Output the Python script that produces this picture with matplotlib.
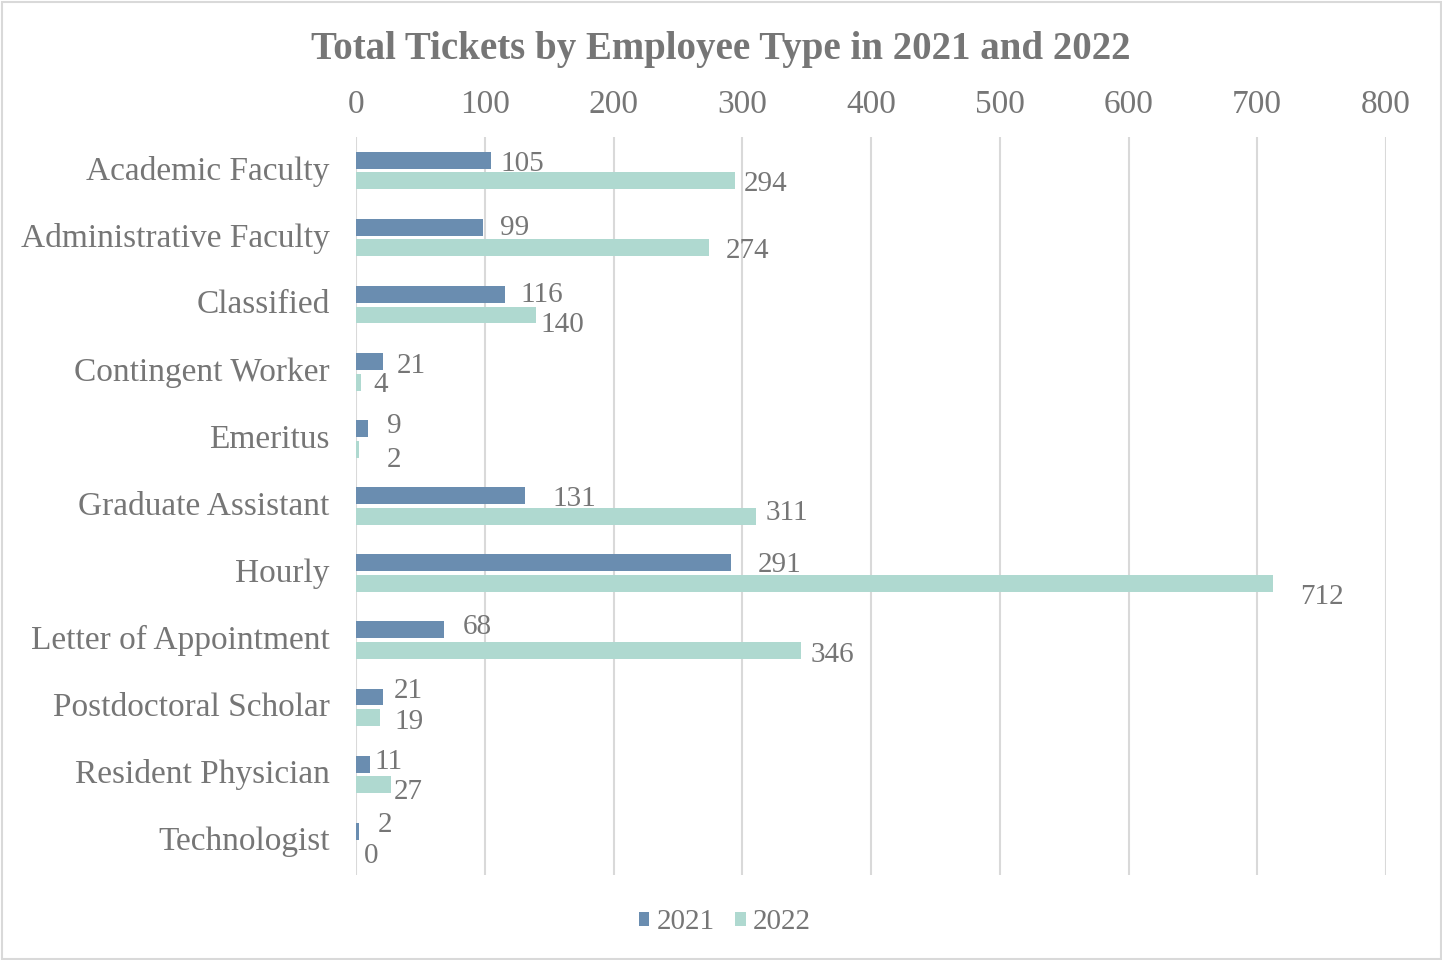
import matplotlib
matplotlib.use("Agg")
import matplotlib.pyplot as plt
import matplotlib.transforms as mtransforms
from matplotlib.patches import Rectangle
import numpy as np

categories = ["Academic Faculty", "Administrative Faculty", "Classified",
              "Contingent Worker", "Emeritus", "Graduate Assistant", "Hourly",
              "Letter of Appointment", "Postdoctoral Scholar",
              "Resident Physician", "Technologist"]
tickets_2021 = [105, 99, 116, 21, 9, 131, 291, 68, 21, 11, 2]
tickets_2022 = [294, 274, 140, 4, 2, 311, 712, 346, 19, 27, 0]
x_ticks = [0, 100, 200, 300, 400, 500, 600, 700, 800]

# label nudges in pixels (dx from bar end, dy from bar centre, downward positive)
lab_dx_2021 = [9, 17, 15, 14, 19, 28, 27, 19, 11, 4, 19]
lab_dy_2021 = [2, -1, -1, 2, -5, 1, 0, -5, -8, -4, -8]
lab_dx_2022 = [9, 17, 4, 12, 28, 9, 27, 9, 14, 3, 8]
lab_dy_2022 = [1, 1, 8, 1, 9, -5, 12, 3, 2, 5, 2]

C21 = "#6a8db0"
C22 = "#afd9d0"
TXT = "#767676"
GRID = "#d9d9d9"
FONT = "Liberation Serif"

plt.rcParams["font.family"] = [FONT, "DejaVu Serif"]

W, H, DPI = 1442, 960, 100
fig = plt.figure(figsize=(W / DPI, H / DPI), dpi=DPI)
fig.patches.append(Rectangle((1.5 / W, 1.5 / H), (W - 3) / W, (H - 3) / H,
                             transform=fig.transFigure, fill=False,
                             edgecolor=GRID, linewidth=1.5))

ax = fig.add_axes([356 / W, 1 - 875 / H, (1386 - 356) / W, (875 - 137) / H])

n = len(categories)
y = np.arange(n)
bh = 0.253
off = 0.153
b21 = ax.barh(y - off, tickets_2021, height=bh, color=C21, label="2021", zorder=3)
b22 = ax.barh(y + off, tickets_2022, height=bh, color=C22, label="2022", zorder=3)

ax.set_xlim(0, 800)
ax.set_ylim(n - 0.5, -0.5)
ax.set_xticks(x_ticks)
ax.xaxis.tick_top()
ax.tick_params(axis="x", length=0, pad=12, labelsize=24, labelcolor=TXT)
ax.tick_params(axis="y", length=0, pad=19, labelsize=24, labelcolor=TXT)
ax.set_yticks(y)
ax.set_yticklabels(categories)
lift = mtransforms.ScaledTranslation(0, 3 / DPI, fig.dpi_scale_trans)
for lab in ax.get_yticklabels():
    lab.set_verticalalignment("center_baseline")
    lab.set_transform(lab.get_transform() + lift)
ax.grid(axis="x", color=GRID, linewidth=1.5, zorder=0)
for s in ax.spines.values():
    s.set_visible(False)

for vals, ys, dxs, dys in ((tickets_2021, y - off, lab_dx_2021, lab_dy_2021),
                           (tickets_2022, y + off, lab_dx_2022, lab_dy_2022)):
    for v, yy, dx, dy in zip(vals, ys, dxs, dys):
        ax.annotate(str(v), xy=(v, yy), xytext=(dx, -dy - 2),
                    textcoords="offset pixels", ha="left", va="center",
                    fontsize=21, color=TXT, zorder=4)

fig.text(0.5, 1 - 49 / H, "Total Tickets by Employee Type in 2021 and 2022",
         ha="center", va="center", fontsize=28, fontweight="bold", color=TXT)

fig.legend(handles=[b21, b22], loc="center", bbox_to_anchor=(725 / W, 1 - 922 / H),
           ncol=2, frameon=False, fontsize=21, labelcolor=TXT,
           handlelength=0.36, handleheight=0.36, handletextpad=0.25,
           columnspacing=0.7)

fig.savefig("out.png", dpi=DPI)
